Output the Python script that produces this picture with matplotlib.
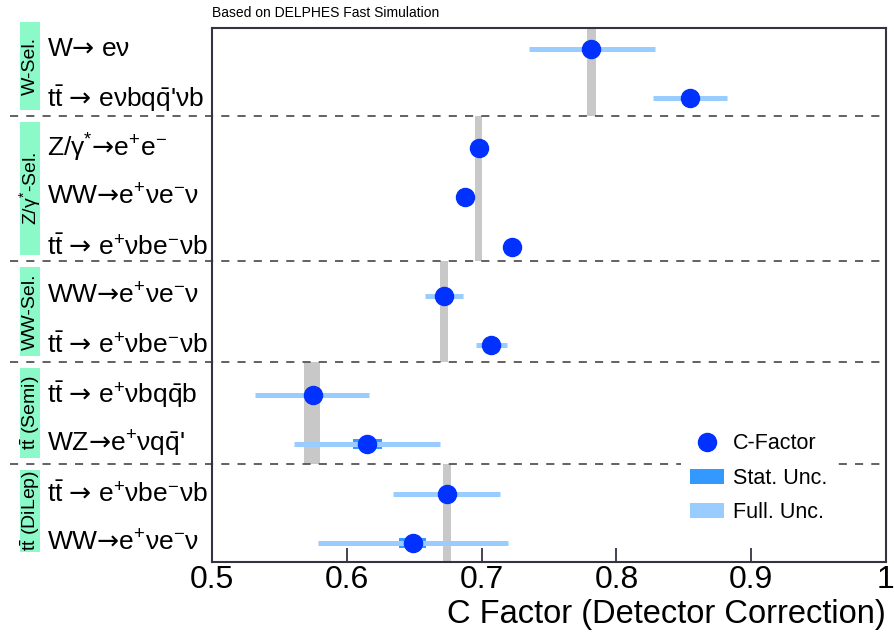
import numpy as np
import matplotlib
import matplotlib.pyplot as plt
from matplotlib.lines import Line2D
from matplotlib.patches import Patch, Rectangle
import matplotlib.transforms as mtransforms

matplotlib.use('Agg')

plt.rcParams['font.family'] = ['Liberation Sans', 'DejaVu Sans']
plt.rcParams['mathtext.fontset'] = 'custom'
plt.rcParams['mathtext.rm'] = 'Liberation Sans'
plt.rcParams['mathtext.it'] = 'Liberation Sans'
plt.rcParams['mathtext.sf'] = 'DejaVu Sans'
plt.rcParams['mathtext.default'] = 'regular'

AR = r"$\mathsf{→}$"

# processes, top to bottom
processes = [
    "W" + AR + " eν",
    r"$t\bar{t}$ " + AR + " eνbq$\\bar{q}$'νb",
    r"Z/γ$^{*}$" + AR + "e$^{+}$e$^{-}$",
    "WW" + AR + "e$^{+}$νe$^{-}$ν",
    r"$t\bar{t}$ " + AR + " e$^{+}$νbe$^{-}$νb",
    "WW" + AR + "e$^{+}$νe$^{-}$ν",
    r"$t\bar{t}$ " + AR + " e$^{+}$νbe$^{-}$νb",
    r"$t\bar{t}$ " + AR + " e$^{+}$νbq$\\bar{q}$b",
    "WZ" + AR + "e$^{+}$νq$\\bar{q}$'",
    r"$t\bar{t}$ " + AR + " e$^{+}$νbe$^{-}$νb",
    "WW" + AR + "e$^{+}$νe$^{-}$ν",
]
c_factor = [0.7815, 0.8548, 0.6978, 0.688, 0.7228, 0.6719, 0.7067, 0.5748, 0.6148, 0.674, 0.649]
full_lo = [0.7348, 0.8274, 0.695, 0.685, 0.720, 0.6578, 0.6956, 0.532, 0.5607, 0.634, 0.5785]
full_hi = [0.8289, 0.8822, 0.701, 0.691, 0.726, 0.686, 0.7185, 0.6165, 0.669, 0.714, 0.7193]
stat_lo = [0.779, 0.852, 0.6955, 0.6855, 0.7205, 0.6695, 0.7045, 0.5725, 0.6044, 0.6715, 0.639]
stat_hi = [0.784, 0.857, 0.700, 0.6905, 0.725, 0.6745, 0.709, 0.577, 0.626, 0.6765, 0.659]

# selections
groups = ["W-Sel.", r"Z/γ$^{*}$-Sel.", "WW-Sel.", r"$t\bar{t}$ (Semi)", r"$t\bar{t}$ (DiLep)"]
group_edges = [-0.425, 1.36, 4.29, 6.34, 8.40, 10.385]
group_mean = [0.7815, 0.6978, 0.672, 0.574, 0.674]
group_halfwidth = [0.003, 0.0026, 0.003, 0.006, 0.003]

fig = plt.figure(figsize=(8.95, 6.44), dpi=100)
ax = fig.add_axes([212 / 895, 1 - 562 / 644, 674 / 895, 534 / 644])

y = np.arange(len(processes))

# grey bands
for i in range(len(groups)):
    ax.fill_betweenx([group_edges[i], group_edges[i + 1]],
                     group_mean[i] - group_halfwidth[i], group_mean[i] + group_halfwidth[i],
                     color='#c8c8c8', lw=0, zorder=1)

trans = mtransforms.blended_transform_factory(ax.transAxes, ax.transData)
for e in group_edges[1:-1]:
    ax.plot([-0.30, 1.0], [e, e], transform=trans, clip_on=False,
            color='#555555', lw=1.3, dashes=(4.5, 4.5), zorder=2)

# green selection labels
for i, g in enumerate(groups):
    top = group_edges[i] + 0.12 if i > 0 else group_edges[i] - 0.12
    bot = group_edges[i + 1] - 0.12 if i < len(groups) - 1 else group_edges[i + 1] - 0.2
    ax.add_patch(Rectangle((-0.285, top), 0.03, bot - top, transform=trans,
                           facecolor='#8cf9c9', edgecolor='none', clip_on=False))
    ax.text(-0.27, (top + bot) / 2, g, transform=trans, rotation=90,
            ha='center', va='center', fontsize=14)

# process labels
for yi, p in zip(y, processes):
    ax.text(-0.245, yi, p, transform=trans, ha='left', va='center', fontsize=19)

# uncertainties and points
ax.barh(y, np.array(stat_hi) - np.array(stat_lo), left=stat_lo, height=0.2,
        color='#3399ff', zorder=3)
ax.hlines(y, full_lo, full_hi, color='#99ccff', lw=3.6, zorder=4)
ax.plot(c_factor, y, 'o', color='#0031ff', ms=13, zorder=5)

ax.set_xlim(0.5, 1.0)
ax.set_ylim(group_edges[-1], group_edges[0])
ax.set_yticks([])
ax.set_xticks([0.5, 0.6, 0.7, 0.8, 0.9, 1.0])
ax.set_xticklabels(['0.5', '0.6', '0.7', '0.8', '0.9', '1'])
ax.tick_params(axis='x', direction='in', length=10, width=1.2, labelsize=23, pad=2, colors='#222233')
ax.tick_params(axis='x', labelcolor='black')
for s in ax.spines.values():
    s.set_color('#333344')
    s.set_linewidth(1.5)
ax.set_xlabel('C Factor (Detector Correction)', fontsize=23.5, loc='right', labelpad=3)

fig.text(212 / 895, 1 - 13 / 644, 'Based on DELPHES Fast Simulation', fontsize=10,
         ha='left', va='center')

handles = [
    Line2D([], [], marker='o', ls='none', color='#0031ff', ms=13),
    Patch(facecolor='#3399ff'),
    Patch(facecolor='#99ccff'),
]
leg = ax.legend(handles, ['C-Factor', 'Stat. Unc.', 'Full. Unc.'], loc='upper left',
                bbox_to_anchor=(0.68, 0.277), frameon=True, fancybox=False,
                facecolor='white', edgecolor='none', framealpha=1.0, fontsize=15.5,
                handlelength=1.6, handletextpad=0.4, labelspacing=0.62)
leg.set_zorder(6)

fig.savefig('out.png', dpi=100)
